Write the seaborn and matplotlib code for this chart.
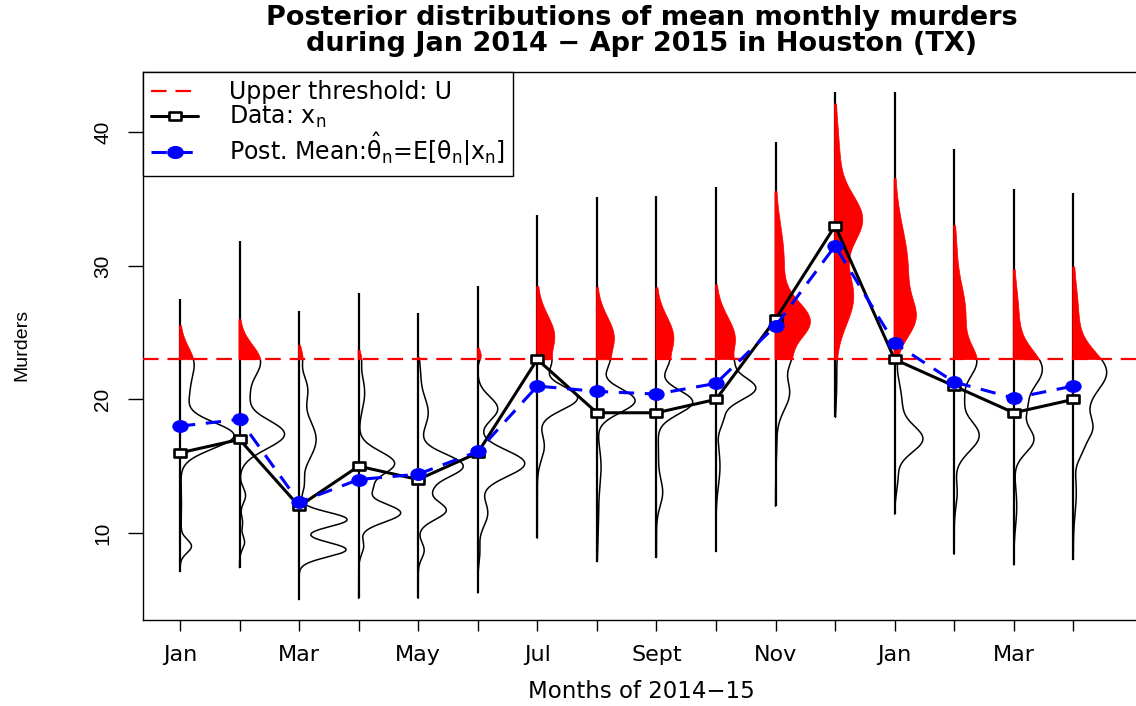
import numpy as np
import pandas as pd
import matplotlib
matplotlib.use("Agg")
import matplotlib.pyplot as plt
from matplotlib.path import Path
from matplotlib.lines import Line2D
import seaborn as sns

# ---------------- data ----------------
month_pos = list(range(1, 17))
tick_labels = ["Jan", "", "Mar", "", "May", "", "Jul", "", "Sept", "",
               "Nov", "", "Jan", "", "Mar", ""]
data_x = [16, 17, 12, 15, 14, 16, 23, 19, 19, 20, 26, 33, 23, 21, 19, 20]
post_mean = [18.0, 18.5, 12.3, 14.0, 14.4, 16.1, 21.0, 20.6, 20.4, 21.2,
             25.5, 31.5, 24.2, 21.3, 20.1, 21.0]
threshold_U = 23
sample_min = [7.1, 7.4, 5.0, 5.1, 5.1, 5.5, 9.6, 7.85, 8.15, 8.6,
              12.0, 18.65, 11.4, 8.4, 7.6, 8.0]
sample_max = [27.5, 31.85, 26.6, 27.95, 26.5, 28.5, 33.8, 35.15, 35.2, 35.9,
              39.3, 43.0, 43.0, 38.75, 35.75, 35.45]

# posterior density shapes: bumps (centre, spread, relative height) per month
dens_jan14 = [(17.3, 1.0, 54), (22.6, 1.3, 14), (20.2, 0.9, 6), (9.0, 0.5, 11), (12.0, 2.0, 1.5)]
dens_feb14 = [(17.4, 1.1, 45), (22.8, 1.3, 21), (20.2, 0.8, 6), (12.8, 0.6, 6), (9.3, 0.5, 5), (10.8, 0.5, 3)]
dens_mar14 = [(11.0, 0.55, 48), (8.75, 0.55, 47), (17.0, 1.5, 17), (20.8, 1.0, 8), (13.5, 0.7, 4), (23.2, 0.6, 3)]
dens_apr14 = [(15.2, 0.9, 36), (11.5, 0.7, 42), (13.3, 0.5, 9), (20.5, 1.3, 6), (9.0, 0.6, 5), (23.0, 0.5, 2)]
dens_may14 = [(15.0, 0.9, 45), (11.7, 0.7, 28), (19.0, 1.2, 10), (8.7, 0.6, 6), (13.2, 0.5, 6), (22.0, 1.0, 2)]
dens_jun14 = [(15.2, 1.0, 47), (19.3, 0.9, 20), (11.5, 1.0, 10), (23.3, 0.4, 3), (8.5, 0.8, 2)]
dens_jul14 = [(24.7, 1.6, 17), (20.1, 0.9, 40), (22.6, 0.6, 6), (16.5, 1.0, 7)]
dens_aug14 = [(24.6, 1.6, 17), (19.9, 0.9, 38), (22.6, 0.6, 4), (15.0, 1.5, 4), (11.0, 2.0, 1.5)]
dens_sep14 = [(24.6, 1.6, 17), (19.8, 0.9, 36), (22.6, 0.6, 4), (13.0, 1.0, 6), (16.0, 1.5, 2)]
dens_oct14 = [(24.5, 1.7, 19), (20.8, 0.9, 38), (22.7, 0.5, 4), (15.0, 1.5, 4), (18.5, 0.7, 6)]
dens_nov14 = [(25.8, 1.5, 33), (30.5, 2.5, 8), (23.0, 0.8, 8), (20.5, 1.3, 14), (16.5, 1.5, 1)]
dens_dec14 = [(33.5, 1.8, 26), (27.7, 2.1, 18), (38.0, 2.5, 4), (21.0, 1.5, 1.5)]
dens_jan15 = [(26.0, 1.4, 15), (29.8, 3.0, 13), (17.0, 1.0, 27), (19.8, 1.5, 7), (14.0, 1.0, 3)]
dens_feb15 = [(22.7, 1.3, 20), (26.5, 2.2, 11), (31.5, 1.5, 1.5), (17.3, 1.2, 25), (20.0, 0.8, 6), (13.0, 1.0, 3)]
dens_mar15 = [(22.2, 1.5, 28), (26.3, 2.0, 4.5), (17.0, 1.0, 20), (19.3, 0.8, 8), (12.0, 1.5, 3)]
dens_apr15 = [(22.0, 1.6, 33), (26.5, 2.0, 4.5), (17.8, 1.0, 18), (19.5, 0.8, 3), (16.0, 0.7, 5), (13.0, 1.5, 3)]
density_shapes = [dens_jan14, dens_feb14, dens_mar14, dens_apr14, dens_may14, dens_jun14,
                  dens_jul14, dens_aug14, dens_sep14, dens_oct14, dens_nov14, dens_dec14,
                  dens_jan15, dens_feb15, dens_mar15, dens_apr15]

# ---------------- style ----------------
sns.set_style("white")
plt.rcParams['font.family'] = ['DejaVu Sans']
plt.rcParams['mathtext.fontset'] = 'custom'
plt.rcParams['mathtext.rm'] = 'DejaVu Sans'
plt.rcParams['mathtext.it'] = 'DejaVu Sans:italic'
plt.rcParams['mathtext.bf'] = 'DejaVu Sans:bold'
for k in ['text.color', 'axes.labelcolor', 'xtick.color', 'ytick.color', 'axes.edgecolor']:
    plt.rcParams[k] = 'black'
narrow = ['Liberation Sans', 'DejaVu Sans']

W, H = 1136, 706
fig = plt.figure(figsize=(W / 100, H / 100), dpi=100)
ax = fig.add_axes([143 / W, 86 / H, 997 / W, 548 / H])
ax.set_xlim(0.379, 17.12)
ax.set_ylim(3.48, 44.52)
px_per_month = 997 / (17.12 - 0.379)
width_scale = 1.0 / px_per_month

# marker shapes (slightly wide, as in the reference)
sq = Path([(-1.3, -1), (1.3, -1), (1.3, 1), (-1.3, 1), (-1.3, -1)],
          [Path.MOVETO, Path.LINETO, Path.LINETO, Path.LINETO, Path.CLOSEPOLY])
circ = Path.unit_circle()
ell = Path(circ.vertices * np.array([1.3, 1.0]), circ.codes)

# ---------------- densities ----------------
for m, comps, lo, hi in zip(month_pos, density_shapes, sample_min, sample_max):
    v = np.linspace(lo, hi, 900)
    w = np.zeros_like(v)
    for mu, sd, h in comps:
        w += h * np.exp(-0.5 * ((v - mu) / sd) ** 2)
    xs = m + w * width_scale
    ax.vlines(m, lo, hi, color='black', lw=1.6, zorder=2)
    below = v <= threshold_U
    ax.plot(xs[below], v[below], color='black', lw=1.1, zorder=2)
    above = (v >= threshold_U) & (w > 1.0)
    ax.fill_betweenx(v, m - 1.1 * width_scale, xs, where=above,
                     facecolor='red', edgecolor='red', lw=0.5, zorder=3)

# ---------------- threshold + lines ----------------
ax.axhline(threshold_U, color='red', lw=1.6, ls=(0, (7, 4)), zorder=4)

df = pd.DataFrame({'month': month_pos, 'data': data_x, 'post': post_mean})
sns.lineplot(data=df, x='month', y='data', ax=ax, color='black', lw=2.2,
             marker=sq, ms=8, mfc='white', mec='black', mew=1.9, zorder=5)
sns.lineplot(data=df, x='month', y='post', ax=ax, color='blue', lw=2.2,
             ls=(0, (5, 3.5)), marker=ell, ms=11, mfc='blue', mec='blue', zorder=6)

# ---------------- axes ----------------
ax.set_xticks(month_pos)
ax.set_xticklabels(tick_labels)
ax.set_yticks([10, 20, 30, 40])
ax.set_yticklabels(['10', '20', '30', '40'], rotation=90, va='center', ha='center',
                   family=narrow)
ax.tick_params(axis='x', bottom=True, direction='out', length=8, width=1, pad=10, labelsize=16)
ax.tick_params(axis='y', left=True, direction='out', length=11, width=1, pad=18, labelsize=15)
for s in ax.spines.values():
    s.set_visible(True)
    s.set_color('black')
    s.set_linewidth(1.0)

ax.set_xlabel("Months of 2014\u221215", fontsize=16.5)
ax.xaxis.set_label_coords(0.5, (620 - 692) / 548)
ax.xaxis.label.set_va('center')
ax.set_ylabel("Murders", fontsize=14, family=narrow)
ax.yaxis.set_label_coords((22 - 143) / 997, (620 - 345) / 548)
ax.yaxis.label.set_va('center')

fig.text(641.5 / W, 1 - 31 / H,
         "Posterior distributions of mean monthly murders\nduring Jan 2014 \u2212 Apr 2015 in Houston (TX)",
         ha='center', va='center', fontsize=19.5, fontweight='bold', linespacing=0.98)

# ---------------- legend ----------------
handles = [
    Line2D([], [], color='red', lw=1.6, ls=(0, (7, 4))),
    Line2D([], [], color='black', lw=2.2, marker=sq, ms=8, mfc='white', mec='black', mew=1.9),
    Line2D([], [], color='blue', lw=2.2, ls=(0, (5, 3.5)), marker=ell, ms=11, mfc='blue', mec='blue'),
]
labels = [
    "Upper threshold: U",
    r"Data: $\mathrm{x}_{\mathrm{n}}$",
    r"Post. Mean:$\hat{\mathrm{\theta}}_{\mathrm{n}}$=E[$\mathrm{\theta}_{\mathrm{n}}$|$\mathrm{x}_{\mathrm{n}}$]",
]
leg = ax.legend(handles, labels, loc='upper left', bbox_to_anchor=(0, 1),
                borderaxespad=0, frameon=True, fancybox=False, framealpha=1,
                edgecolor='black', fontsize=17, handlelength=2.0,
                handletextpad=1.3, labelspacing=0.0, borderpad=0.35)
leg.get_frame().set_linewidth(1.0)
leg.set_zorder(10)

fig.savefig("out.png", dpi=100)
